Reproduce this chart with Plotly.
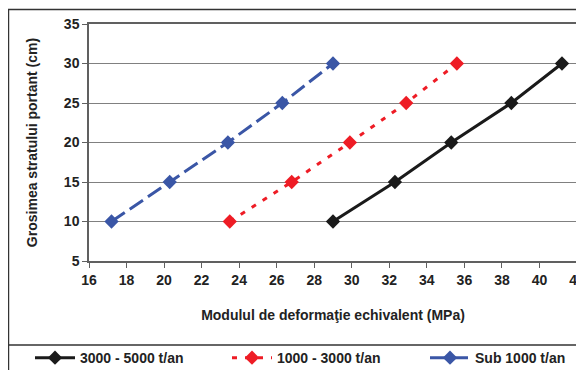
import plotly.graph_objects as go

# data
thickness = [10, 15, 20, 25, 30]
modul_3000_5000 = [29.0, 32.3, 35.3, 38.5, 41.2]
modul_1000_3000 = [23.5, 26.8, 29.9, 32.9, 35.6]
modul_sub_1000 = [17.2, 20.3, 23.4, 26.3, 29.0]
series_names = ['3000 - 5000 t/an', '1000 - 3000 t/an', 'Sub 1000 t/an']

FONT = 'Liberation Sans, Arial, sans-serif'
TXT = dict(family=FONT, size=14, weight='bold', color='#222')

# the page body adds an 8px offset, so the figure is 8px smaller than the window
W, H = 576, 362

fig = go.Figure()
fig.add_trace(go.Scatter(x=modul_3000_5000, y=thickness, name=series_names[0], mode='lines+markers',
                         line=dict(color='#1a1a1a', width=3), legend='legend',
                         marker=dict(symbol='diamond', size=11, color='#1a1a1a')))
fig.add_trace(go.Scatter(x=modul_1000_3000, y=thickness, name=series_names[1], mode='lines+markers',
                         line=dict(color='#ee1c25', width=3, dash='5px,8px'), legend='legend2',
                         marker=dict(symbol='diamond', size=11, color='#ee1c25')))
fig.add_trace(go.Scatter(x=modul_sub_1000, y=thickness, name=series_names[2], mode='lines+markers',
                         line=dict(color='#3a56a6', width=3, dash='16px,6px'), legend='legend3',
                         marker=dict(symbol='diamond', size=11, color='#3a56a6')))

fig.update_xaxes(range=[16, 42], dtick=2, showgrid=False, zeroline=False, automargin=False,
                 showline=True, linecolor='#606060', linewidth=1.5, mirror=True,
                 ticks='outside', ticklen=5, tickcolor='#606060', tickfont=TXT,
                 ticklabeloverflow='allow',
                 title=dict(text='Modulul de deformaţie echivalent (MPa)', standoff=24, font=TXT))
fig.update_yaxes(range=[5, 35], dtick=5, showgrid=True, gridcolor='#808080', gridwidth=1.3,
                 zeroline=False, automargin=False, showline=True, linecolor='#606060', linewidth=1.5,
                 mirror=True, ticks='outside', ticklen=5, tickcolor='#606060', tickfont=TXT,
                 title=dict(text='Grosimea stratului portant (cm)', standoff=23, font=TXT))

# outer chart border and legend separator line
fig.add_shape(type='rect', xref='paper', yref='paper', x0=-0.165, x1=1.03, y0=-0.6, y1=1.061,
              line=dict(color='#333', width=1.5))
fig.add_shape(type='line', xref='paper', yref='paper', x0=-0.165, x1=1.03, y0=-0.354, y1=-0.354,
              line=dict(color='#333', width=1.5))

leg = dict(orientation='h', xref='container', yref='container', y=0.033,
           xanchor='left', yanchor='middle', itemwidth=40, font=TXT, bgcolor='rgba(0,0,0,0)')

fig.update_layout(
    width=W, height=H,
    margin=dict(l=81, r=7, t=16, b=109),
    plot_bgcolor='white', paper_bgcolor='white',
    showlegend=True,
    legend=dict(leg, x=22 / W),
    legend2=dict(leg, x=219 / W),
    legend3=dict(leg, x=417 / W),
)

fig.write_html('out.html')
